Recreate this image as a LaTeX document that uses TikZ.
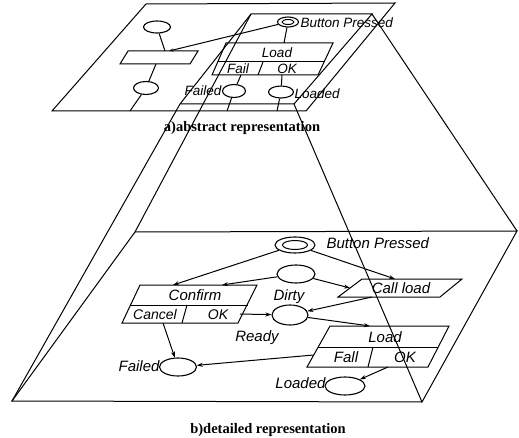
\documentclass[tikz,border=0pt]{standalone}
\usepackage{fontspec}
\setmainfont{Liberation Serif}
\setsansfont{Liberation Sans}
\usetikzlibrary{arrows.meta,shapes.geometric}

\begin{document}
\begin{tikzpicture}[x=1pt,y=-1pt,
  every path/.style={line width=1pt},
  place/.style={draw,ellipse,inner sep=0pt,line width=1.1pt},
  lbltop/.style={font=\sffamily\itshape\fontsize{13.5}{13.5}\selectfont,inner sep=0pt},
  lblbot/.style={font=\sffamily\itshape\fontsize{15}{15}\selectfont,inner sep=0pt},
  caption/.style={font=\bfseries\fontsize{14.5}{14.5}\selectfont,inner sep=0pt},
  arc/.style={-{Stealth[length=6pt,width=4pt]}},
  arcs/.style={-{Stealth[length=4.5pt,width=3pt]}}]

\useasboundingbox (0,0) rectangle (519,438);

% ---------- abstract level ----------
\coordinate (aTL) at (146,4);   \coordinate (aTR) at (395,3);
\coordinate (aBR) at (306,111); \coordinate (aBL) at (52,111);
\draw (aTL) -- (aTR) -- (aBR) -- (aBL) -- cycle;

% region that gets refined
\coordinate (iTL) at (251,14);  \coordinate (iTR) at (372,14);
\coordinate (iBR) at (294,104); \coordinate (iBL) at (180,104);
\draw (iTL) -- (iTR) -- (iBR) -- (iBL) -- cycle;

% left column
\node[place,minimum width=27pt,minimum height=12pt] (p1) at (157,27) {};
\coordinate (rTL) at (128,51); \coordinate (rTR) at (198,51);
\coordinate (rBR) at (190,64); \coordinate (rBL) at (120,64);
\draw (rTL) -- (rTR) -- (rBR) -- (rBL) -- cycle;
\coordinate (rIn1) at (165,51);
\coordinate (rIn2) at (169,51);
\coordinate (rOut) at (156,64);
\node[place,minimum width=25pt,minimum height=13pt] (p2) at (146,88) {};
\coordinate (p2end) at (130,111);

% Button Pressed
\node[place,minimum width=21pt,minimum height=10pt] (bpA) at (288,22) {};
\node[draw,ellipse,inner sep=0pt,minimum width=12pt,minimum height=5pt] (bpAi) at (288,22) {};
\node[lbltop,anchor=west] (bpAl) at (300,22.5) {Button Pressed};

% Load transition
\coordinate (lA1) at (226,43); \coordinate (lA2) at (333,43);
\coordinate (lA3) at (318,75); \coordinate (lA4) at (212,75);
\coordinate (lAm1) at (217.6,62); \coordinate (lAm2) at (324,62);
\coordinate (lAd1) at (263,62); \coordinate (lAd2) at (258,75);
\draw (lA1) -- (lA2) -- (lA3) -- (lA4) -- cycle;
\draw (lAm1) -- (lAm2);
\draw (lAd1) -- (lAd2);
\node[lbltop] (lAt) at (277,52.5) {Load};
\node[lbltop] (lAf) at (238,69) {Fail};
\node[lbltop] (lAo) at (287,69) {OK};
\coordinate (lAin) at (284,43);
\coordinate (lAfo) at (241,75);
\coordinate (lAoo) at (282,75);

\node[place,minimum width=23pt,minimum height=13pt] (fA) at (234,91) {};
\node[lbltop,anchor=east] (fAl) at (222,91) {Failed};
\node[place,minimum width=25pt,minimum height=12pt] (ldA) at (281,92) {};
\node[lbltop,anchor=west] (ldAl) at (294,94) {Loaded};
\coordinate (fAend) at (227,111);
\coordinate (ldAend) at (277,111);

\draw (p1) -- (rIn1);
\draw[arcs] (bpA) -- (rIn2);
\draw (rOut) -- (p2);
\draw (p2) -- (p2end);
\draw (bpA) -- (lAin);
\draw (lAfo) -- (fA);
\draw (lAoo) -- (ldA);
\draw (fA) -- (fAend);
\draw (ldA) -- (ldAend);

\node[caption] (capA) at (242,128) {a)abstract representation};

% ---------- detailed level ----------
\coordinate (bTL) at (135,232); \coordinate (bTR) at (517,231);
\coordinate (bBR) at (422,402); \coordinate (bBL) at (12,401);
\draw (bTL) -- (bTR) -- (bBR) -- (bBL) -- cycle;

% Button Pressed
\node[place,minimum width=40pt,minimum height=16pt] (bp) at (295,245) {};
\node[draw,ellipse,inner sep=0pt,minimum width=25pt,minimum height=9pt] (bpi) at (295,245) {};
\node[lblbot,anchor=west] (bpl) at (326,243) {Button Pressed};

\node[place,minimum width=38pt,minimum height=18pt] (dirty) at (296,274) {};
\node[lblbot] (dirtyl) at (289,297) {Dirty};
\node[place,minimum width=36pt,minimum height=20pt] (ready) at (290,315) {};
\node[lblbot] (readyl) at (257,338) {Ready};

% Confirm transition
\coordinate (c1) at (140,285); \coordinate (c2) at (257,285);
\coordinate (c3) at (238,323); \coordinate (c4) at (122,323);
\coordinate (cm1) at (130.5,305); \coordinate (cm2) at (247.5,305);
\coordinate (cd1) at (187,305); \coordinate (cd2) at (182,323);
\draw (c1) -- (c2) -- (c3) -- (c4) -- cycle;
\draw (cm1) -- (cm2);
\draw (cd1) -- (cd2);
\node[lblbot] (ct) at (195,295.5) {Confirm};
\node[lblbot,font=\sffamily\itshape\fontsize{14}{14}\selectfont] (cc) at (155,314.5) {Cancel};
\node[lblbot,font=\sffamily\itshape\fontsize{14}{14}\selectfont] (co) at (218,314.5) {OK};

% Call load transition
\coordinate (k1) at (362,279); \coordinate (k2) at (462,279);
\coordinate (k3) at (440,297); \coordinate (k4) at (338,297);
\draw (k1) -- (k2) -- (k3) -- (k4) -- cycle;
\node[lblbot] (kt) at (401,288) {Call load};

% Load transition
\coordinate (l1) at (330,326); \coordinate (l2) at (449,326);
\coordinate (l3) at (428,367); \coordinate (l4) at (307,367);
\coordinate (lm1) at (318.2,347); \coordinate (lm2) at (438.2,347);
\coordinate (ld1) at (373,347); \coordinate (ld2) at (368,367);
\draw (l1) -- (l2) -- (l3) -- (l4) -- cycle;
\draw (lm1) -- (lm2);
\draw (ld1) -- (ld2);
\node[lblbot] (lt) at (385,337) {Load};
\node[lblbot] (lf) at (346,357.5) {Fall};
\node[lblbot] (lo) at (405,357.5) {OK};

\node[place,minimum width=37pt,minimum height=18pt] (failed) at (178,367) {};
\node[lblbot,anchor=east] (failedl) at (160,366) {Failed};
\node[place,minimum width=40pt,minimum height=18pt] (loaded) at (345,386) {};
\node[lblbot,anchor=east] (loadedl) at (326,383) {Loaded};

% arc end points on the transitions
\coordinate (cIn1) at (173,285);
\coordinate (cIn2) at (222,285);
\coordinate (kIn1) at (395,279);
\coordinate (kIn2) at (350,288);
\coordinate (kOut) at (372,297);
\coordinate (cOk) at (240,314);
\coordinate (cCancel) at (163,323);
\coordinate (lIn) at (370,326);
\coordinate (lFail) at (313.6,355);
\coordinate (lOk) at (388,367);

\draw[arc] (bp) -- (cIn1);
\draw[arc] (bp) -- (kIn1);
\draw[arc] (dirty) -- (cIn2);
\draw[arc] (dirty) -- (kIn2);
\draw[arc] (kOut) -- (ready);
\draw[arc] (cOk) -- (ready);
\draw[arc] (ready) -- (lIn);
\draw[arc] (cCancel) -- (failed);
\draw[arc] (lFail) -- (failed);
\draw[arc] (lOk) -- (loaded);

% projection from the refined region onto the detailed level
\draw (iTL) -- (bTL);
\draw (iBL) -- (bBL);
\draw (iTR) -- (bTR);
\draw (iBR) -- (bBR);

\node[caption] (capB) at (268,430) {b)detailed representation};
\end{tikzpicture}
\end{document}
